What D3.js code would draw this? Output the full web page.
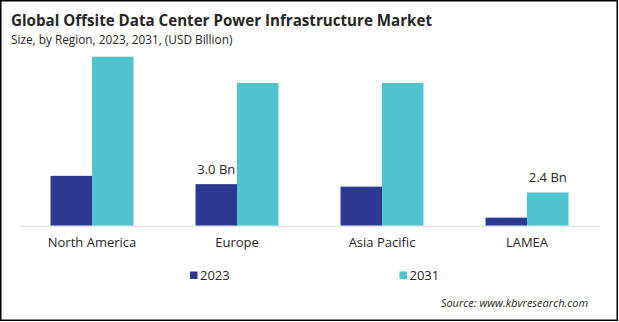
<!DOCTYPE html>
<html>
<head>
<meta charset="utf-8">
<script src="https://cdn.jsdelivr.net/npm/d3@7/dist/d3.min.js"></script>
<style>
  html, body { margin: 0; padding: 0; background: #fff; }
  svg { display: block; font-family: "Open Sans", "Noto Sans", sans-serif; }
</style>
</head>
<body>
<svg id="chart" width="619" height="322"></svg>
<script>
// Market size by region, USD billion
const regions = ["North America", "Europe", "Asia Pacific", "LAMEA"];
const years = ["2023", "2031"];
const values2023 = [3.6, 3.0, 2.82, 0.58];
const values2031 = [12.2, 10.3, 10.3, 2.4];
const seriesColors = ["#2b3990", "#4fc4cf"];
// Bars carrying a value label: [region index, series index, text]
const valueLabels = [[1, 0, "3.0 Bn"], [3, 1, "2.4 Bn"]];

const series = [values2023, values2031];
const svg = d3.select("#chart");

// Frame
svg.append("rect")
  .attr("x", 0.75).attr("y", 0.75)
  .attr("width", 616.5).attr("height", 319.5)
  .attr("fill", "#fff").attr("stroke", "#000").attr("stroke-width", 1.5);

// Titles
svg.append("text")
  .attr("x", 11).attr("y", 26)
  .attr("font-size", 15.3).attr("font-weight", "bold").attr("fill", "#262626")
  .attr("textLength", 421).attr("lengthAdjust", "spacingAndGlyphs")
  .text("Global Offsite Data Center Power Infrastructure Market");
svg.append("text")
  .attr("x", 11).attr("y", 43.5)
  .attr("font-size", 11.8).attr("fill", "#262626")
  .text("Size, by Region, 2023, 2031, (USD Billion)");

// Scales
const baseY = 225.7;
const x0 = d3.scaleBand().domain(regions)
  .range([19.5, 599.5]).paddingInner(0.428).paddingOuter(0.214);
const x1 = d3.scaleBand().domain(years).range([0, x0.bandwidth()]);
const y = d3.scaleLinear().domain([0, 12.2]).range([baseY, 56.7]);

// Bars
const groups = svg.append("g").selectAll("g")
  .data(regions)
  .join("g")
  .attr("transform", d => `translate(${x0(d)},0)`);

groups.selectAll("rect")
  .data((d, i) => years.map((yr, s) => ({ yr, s, v: series[s][i] })))
  .join("rect")
  .attr("x", d => x1(d.yr))
  .attr("y", d => y(d.v))
  .attr("width", x1.bandwidth())
  .attr("height", d => baseY - y(d.v))
  .attr("fill", d => seriesColors[d.s]);

// Baseline and category axis
const xAxis = svg.append("g")
  .attr("transform", `translate(0,${baseY})`)
  .call(d3.axisBottom(x0).tickSize(0).tickPadding(12));
xAxis.select(".domain").attr("stroke", "#d9d9d9").attr("stroke-width", 1);
xAxis.selectAll("text")
  .attr("font-size", 13).attr("fill", "#262626")
  .attr("font-family", "\"Open Sans\", \"Noto Sans\", sans-serif");

// Value labels
valueLabels.forEach(([ri, si, txt]) => {
  const v = series[si][ri];
  svg.append("text")
    .attr("x", x0(regions[ri]) + x1(years[si]) + x1.bandwidth() / 2)
    .attr("y", y(v) - 10)
    .attr("text-anchor", "middle")
    .attr("font-size", 13).attr("fill", "#262626")
    .text(txt);
});

// Legend
const legendX = [190, 399.5];
years.forEach((yr, s) => {
  svg.append("rect")
    .attr("x", legendX[s]).attr("y", 271.5)
    .attr("width", 7.5).attr("height", 7.5)
    .attr("fill", seriesColors[s]);
  svg.append("text")
    .attr("x", legendX[s] + 10).attr("y", 279.5)
    .attr("font-size", 13).attr("fill", "#262626")
    .text(yr);
});

// Source note
svg.append("text")
  .attr("x", 588).attr("y", 306.5)
  .attr("text-anchor", "end")
  .attr("font-size", 11).attr("font-style", "italic").attr("fill", "#262626")
  .text("Source: www.kbvresearch.com");
</script>
</body>
</html>
